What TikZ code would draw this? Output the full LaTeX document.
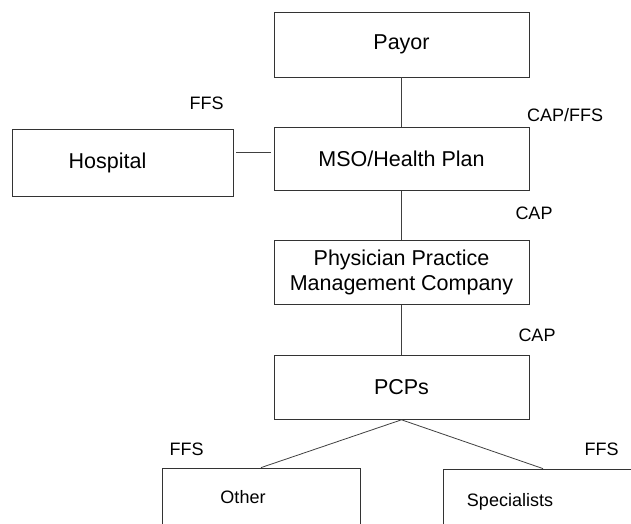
\documentclass[tikz,border=0pt]{standalone}
\usepackage{fontspec}
\setmainfont{Liberation Sans}
\usetikzlibrary{positioning}

\begin{document}
\begin{tikzpicture}[
      x=1pt, y=-1pt,
      every node/.style={font=\fontsize{21.5}{25}\selectfont},
      box/.style={draw=black!80, line width=0.8pt, minimum width=255pt, minimum height=64pt, align=center, inner sep=0pt},
      tag/.style={font=\fontsize{18}{21}\selectfont, inner sep=0pt},
      link/.style={draw=black!75, line width=0.8pt}
    ]
      \useasboundingbox (0,0) rectangle (631,523);

      \node[box, minimum height=65pt] (Payor) at (401.5,44.5) {Payor};
      \node[box, minimum height=63pt, below=50pt of Payor] (MSO) {MSO/Health Plan};
      \node[box, below=49pt of MSO] (PPMC) {Physician Practice\\Management Company};
      \node[box, below=50pt of PPMC] (PCPs) {PCPs};
      \node[box, minimum width=221pt, minimum height=67pt] (Hospital) at (122.5,162.5) {Hospital\hspace*{30pt}};
      \node[box, tag, minimum width=198pt, minimum height=58pt] (Other) at (261,497) {Other\hspace*{36pt}};
      \node[box, tag, minimum width=200pt, minimum height=66pt] (Specialists) at (543,502) {Specialists\hspace*{66pt}};

      \path[link] (Payor.south) -- (MSO.north);
      \path[link] (MSO.south) -- (PPMC.north);
      \path[link] (PPMC.south) -- (PCPs.north);
      \path[link] ([xshift=3pt]Hospital.east |- 0,152) -- ([xshift=-3pt]MSO.west |- 0,152);
      \path[link] (PCPs.south) -- (Other.north);
      \path[link] (PCPs.south) -- (Specialists.north);

      \node[tag] (ffsHosp) at (206.5,103) {FFS};
      \node[tag] (capffsMSO) at (565,115.5) {CAP/FFS};
      \node[tag] (capPPMC) at (534,213.5) {CAP};
      \node[tag] (capPCPs) at (537,335) {CAP};
      \node[tag] (ffsOther) at (186.5,449) {FFS};
      \node[tag] (ffsSpec) at (601.5,449) {FFS};
    \end{tikzpicture}
\end{document}
